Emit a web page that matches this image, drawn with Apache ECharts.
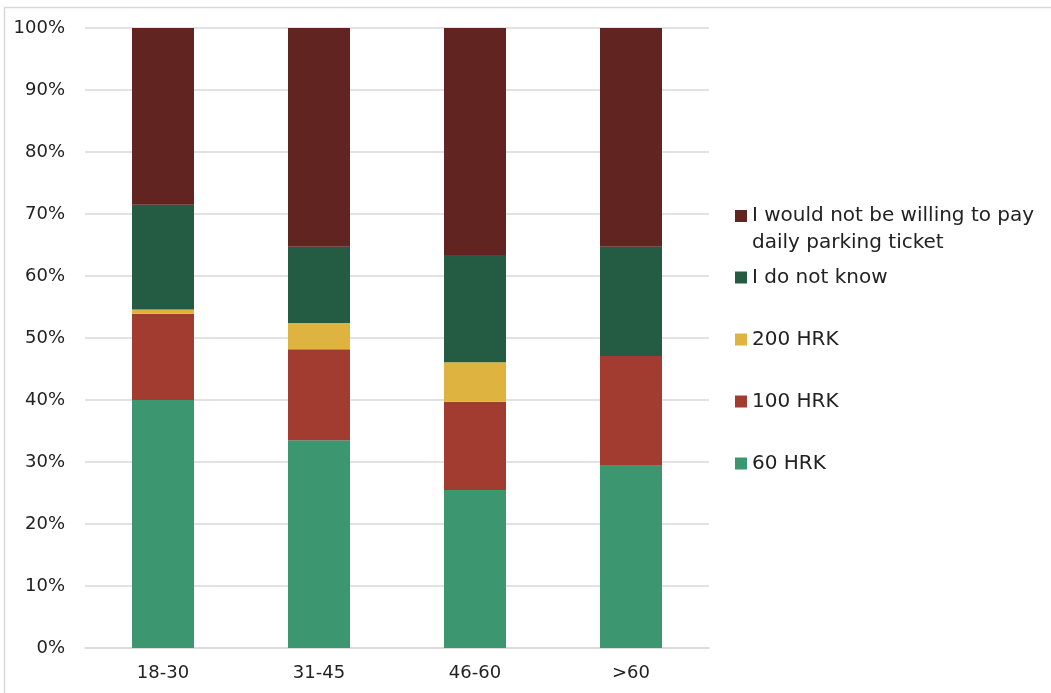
<!DOCTYPE html>
<html>
<head>
<meta charset="utf-8">
<script src="https://cdn.jsdelivr.net/npm/echarts@6/dist/echarts.min.js"></script>
<style>
  html, body { margin: 0; padding: 0; background: #fff; }
  #chart { width: 1051px; height: 693px; }
</style>
</head>
<body>
<div id="chart"></div>
<script>
// Age groups on the x axis
const ageGroups = ['18-30', '31-45', '46-60', '>60'];

// Share of respondents (%) per answer, one value per age group
const hrk60      = [40.0, 33.5, 25.5, 29.4];
const hrk100     = [13.9, 14.7, 14.2, 17.7];
const hrk200     = [0.7, 4.2, 6.4, 0.0];
const dontKnow   = [16.9, 12.3, 17.3, 17.6];
const notWilling = [28.5, 35.3, 36.6, 35.3];

const seriesNames = [
  '60 HRK',
  '100 HRK',
  '200 HRK',
  'I do not know',
  'I would not be willing to pay daily parking ticket'
];
const seriesValues = [hrk60, hrk100, hrk200, dontKnow, notWilling];
const seriesColors = ['#3c9670', '#a23b30', '#deb340', '#235b43', '#622420'];

const FONT = 'DejaVu Sans';
const TEXT = '#222';
const LEGEND_SIZE = 20;
const LINE_H = 27;
const ICON = 12;

const series = seriesNames.map((name, i) => ({
  name: name,
  type: 'bar',
  stack: 'total',
  barWidth: 62,
  data: seriesValues[i],
  itemStyle: { color: seriesColors[i] }
}));

// One legend block per answer, listed from the top answer down.
// markerY is the vertical centre of each legend swatch.
const markerY = [216, 277.5, 339.5, 401.5, 463.5];
const legends = seriesNames.slice().reverse().map((name, k) => {
  const multi = k === 0;
  // the wrapped entry gets an empty line above it, so its first line
  // sits level with the swatch (legend text is centred on the swatch)
  const halfBox = multi ? (LINE_H * 3) / 2 : LINE_H / 2;
  return {
    data: [name],
    orient: 'vertical',
    left: 735,
    top: markerY[k] - halfBox,
    padding: 0,
    itemWidth: ICON,
    itemHeight: ICON,
    itemGap: 0,
    icon: 'rect',
    selectedMode: false,
    formatter: n => multi ? '\u00a0\nI would not be willing to pay\ndaily parking ticket' : n,
    textStyle: { fontFamily: FONT, fontSize: LEGEND_SIZE, color: TEXT, lineHeight: LINE_H }
  };
});

const chart = echarts.init(document.getElementById('chart'), null, { renderer: 'canvas' });
chart.setOption({
  backgroundColor: '#fff',
  animation: false,
  graphic: [
    {
      type: 'line',
      shape: { x1: 4, y1: 7.5, x2: 1051, y2: 7.5 },
      style: { stroke: '#d9d9d9', lineWidth: 1.5 },
      silent: true
    },
    {
      type: 'line',
      shape: { x1: 4.5, y1: 7, x2: 4.5, y2: 693 },
      style: { stroke: '#d9d9d9', lineWidth: 1.5 },
      silent: true
    }
  ],
  grid: { left: 85, right: 342, top: 28, bottom: 45, containLabel: false },
  legend: legends,
  xAxis: {
    type: 'category',
    data: ageGroups,
    axisLine: { show: true, lineStyle: { color: '#d9d9d9', width: 1.5 } },
    axisTick: { show: false },
    axisLabel: { fontFamily: FONT, fontSize: 18, color: TEXT, margin: 16 }
  },
  yAxis: {
    type: 'value',
    min: 0,
    max: 100,
    interval: 10,
    axisLine: { show: false },
    axisTick: { show: false },
    splitLine: { lineStyle: { color: '#d9d9d9', width: 1.5 } },
    axisLabel: { fontFamily: FONT, fontSize: 18, color: TEXT, margin: 20, formatter: v => v + '%' }
  },
  series: series
});
</script>
</body>
</html>
